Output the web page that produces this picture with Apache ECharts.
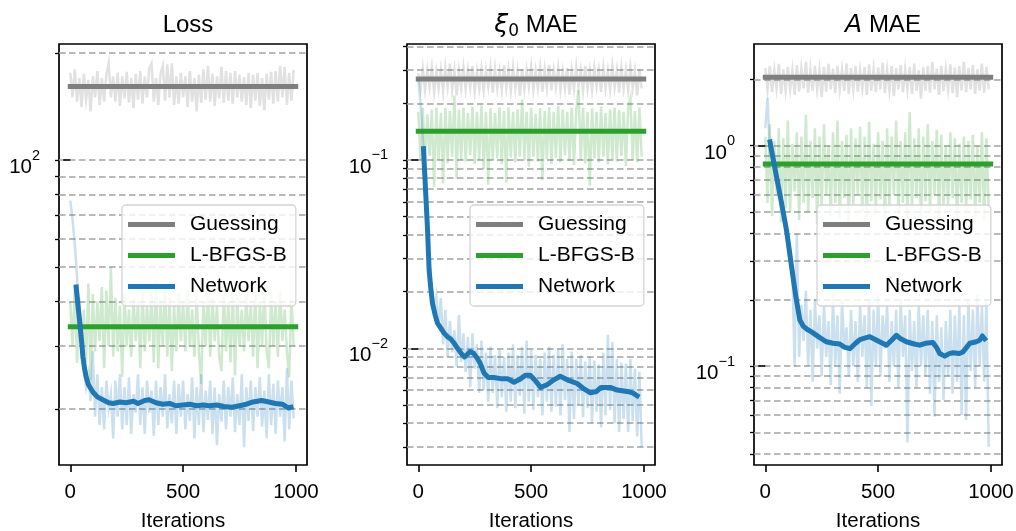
<!DOCTYPE html>
<html><head><meta charset="utf-8">
<script src="https://cdn.jsdelivr.net/npm/echarts@6/dist/echarts.min.js"></script>
<style>html,body{margin:0;padding:0;background:#fff}#c{width:1016px;height:531px}</style>
</head><body><div id="c"></div>
<script>
// ---------- shared ----------
const xTicks = [0, 500, 1000];
const iterRange = [-50, 1049];
const meanSpan = [0, 999];
const seriesNames = ['Guessing', 'L-BFGS-B', 'Network'];
const rawIters = []; for (let k = 0; k < 100; k++) rawIters.push(k * 10);

// ---------- panel 1 : Loss ----------
const lossRange = [13.9, 212];
const lossMajor = [100];
const lossMinor = [20, 30, 40, 50, 60, 70, 80, 90, 200];
const lossGuessMean = 161;
const lossLbfgsMean = 34;
const lossGuessRaw = [
176,150,180,146,170,141,175,148,168,137,
172,150,178,143,170,146,174,187,150,172,
146,176,142,172,149,177,145,170,140,175,
148,178,144,172,150,181,187,146,170,143,
175,184,147,186,150,187,143,172,144,176,
150,172,141,178,146,170,137,174,145,180,
148,184,146,175,142,172,149,183,145,178,
147,176,144,178,150,174,146,171,143,176,
140,174,147,176,142,170,138,175,148,177,
144,178,146,184,150,183,143,176,147,179];
const lossLbfgsRaw = [
40,30,44,26.9,41,29,38,27,45,24.1,
42,29,40,31,44,26,43,30,50,28,
41,29,39,24.6,42,30,38,28,41,31,
40,26,43,29,39,31,42,27,46,26,
40,30,44,28,41,25.5,39,29,42,31,
40,29,43,30,38,28,42,29,23.5,40,
30,44,28,41,31,39,28,25.5,43,29,
40,27,44,24.8,41,30,38,29,42,31,
39,28,43,26,40,30,44,29,26,42,
30,40,28,43,31,38,29,24.5,41,30];
const lossNetRaw = [
77,68,58,47,38,30,26,23,25,21,
29,19,25,18,23,17.5,24,20,22,16.5,
24,19,25,17.5,23,18,24.5,17,22,19.5,
25,18,23,17,24,19.5,22.5,16.8,24,18,
23,19,25,17.6,22,18.2,24,17,23.5,19,
24,17.5,22,18.5,24.5,16.5,23,18,25,17.2,
22.5,18.6,24,17,23,15.8,22,18.4,24,17.5,
23,19,24.5,17.2,22,18,25,15.6,23,18.5,
24,17.3,23,19,24.5,17.8,22.5,16.5,25,18,
23.5,17,24,19,23,16.2,26,17.5,24,18.8];
const lossNetIt  = [26,35,41,50,56,63,70,80,100,120,144,170,190,220,247,280,300,330,349,380,410,440,467,500,530,560,590,614,650,680,716,750,780,810,848,880,910,940,966,978];
const lossNetVal = [44,38.5,35.5,31,28,26,24.6,23.4,22.3,21.6,21.2,20.8,20.7,20.9,20.8,21.0,20.7,21.1,21.2,20.8,20.6,20.7,20.4,20.5,20.6,20.4,20.5,20.4,20.5,20.3,20.2,20.4,20.6,20.9,21.1,20.9,20.7,20.6,20.1,20.2];

// ---------- panel 2 : xi0 MAE ----------
const xiRange = [0.0024, 0.413];
const xiMajor = [0.1, 0.01];
const xiMinor = [0.003,0.004,0.005,0.006,0.007,0.008,0.009,0.02,0.03,0.04,0.05,0.06,0.07,0.08,0.09,0.2,0.3,0.4];
const xiGuessMean = 0.269;
const xiLbfgsMean = 0.142;
const xiGuessRaw = [
0.29,0.24,0.305,0.235,0.30,0.245,0.31,0.23,0.295,0.24,
0.30,0.232,0.31,0.245,0.325,0.236,0.30,0.22,0.298,0.24,
0.31,0.238,0.30,0.243,0.315,0.232,0.296,0.24,0.305,0.235,
0.30,0.245,0.31,0.228,0.305,0.24,0.295,0.236,0.318,0.242,
0.30,0.233,0.31,0.24,0.296,0.218,0.305,0.238,0.30,0.244,
0.312,0.236,0.298,0.241,0.31,0.23,0.302,0.24,0.32,0.234,
0.30,0.243,0.31,0.235,0.296,0.24,0.308,0.222,0.30,0.238,
0.312,0.242,0.30,0.234,0.316,0.24,0.298,0.236,0.31,0.245,
0.30,0.23,0.31,0.241,0.298,0.236,0.315,0.243,0.30,0.228,
0.308,0.24,0.30,0.235,0.312,0.242,0.296,0.22,0.305,0.24];
const xiLbfgsRaw = [
0.18,0.10,0.19,0.098,0.175,0.105,0.185,0.072,0.19,0.10,
0.178,0.075,0.19,0.096,0.182,0.104,0.22,0.08,0.185,0.10,
0.19,0.098,0.178,0.106,0.192,0.095,0.18,0.10,0.195,0.09,
0.18,0.074,0.188,0.1,0.178,0.102,0.19,0.095,0.182,0.076,
0.19,0.103,0.18,0.097,0.185,0.104,0.21,0.099,0.18,0.092,
0.19,0.104,0.176,0.098,0.188,0.078,0.182,0.101,0.19,0.095,
0.18,0.103,0.194,0.097,0.185,0.106,0.18,0.099,0.19,0.094,
0.183,0.235,0.1,0.19,0.096,0.18,0.073,0.188,0.102,0.18,
0.097,0.192,0.104,0.178,0.095,0.186,0.101,0.19,0.098,0.184,
0.105,0.18,0.093,0.188,0.212,0.1,0.182,0.097,0.19,0.104];
const xiNetRaw = [
0.27,0.2,0.13,0.08,0.045,0.026,0.021,0.016,0.019,0.013,
0.0185,0.0105,0.016,0.009,0.014,0.0095,0.0125,0.008,0.015,0.0085,
0.012,0.0075,0.0115,0.0062,0.012,0.0078,0.0105,0.0058,0.011,0.006,
0.0095,0.0052,0.0102,0.0058,0.0092,0.0048,0.0098,0.0055,0.009,0.0046,
0.0095,0.0052,0.0105,0.0048,0.0092,0.0056,0.0102,0.0045,0.011,0.0052,
0.0098,0.0047,0.0092,0.0055,0.0088,0.0044,0.0095,0.0052,0.0102,0.0046,
0.0092,0.0049,0.0098,0.0044,0.0105,0.0053,0.0088,0.0036,0.0096,0.0042,
0.0088,0.005,0.0092,0.0043,0.0085,0.0048,0.009,0.004,0.0086,0.0046,
0.0082,0.0038,0.0095,0.0044,0.0118,0.0047,0.0108,0.004,0.0088,0.0036,
0.0084,0.0042,0.0083,0.0036,0.0088,0.0041,0.0078,0.0034,0.0075,0.003];
const xiNetIt  = [23,32,41,48,55,63,75,85,100,115,130,144,160,174,190,205,218,230,245,260,275,291,310,334,365,395,424,446,476,496,520,542,571,601,629,660,704,733,763,790,810,851,881,925,950,970];
const xiNetVal = [0.115,0.07,0.0425,0.0261,0.021,0.0173,0.015,0.0136,0.0128,0.012,0.0115,0.0112,0.0106,0.0100,0.0094,0.0090,0.0093,0.0096,0.0094,0.0089,0.0083,0.0074,0.0070,0.0070,0.0069,0.0069,0.0066,0.0068,0.0072,0.0072,0.0067,0.0062,0.0064,0.0068,0.0071,0.0068,0.0065,0.0061,0.0058,0.0059,0.0062,0.0062,0.0060,0.0059,0.0058,0.0056];

// ---------- panel 3 : A MAE ----------
const aRange = [0.0356, 2.894];
const aMajor = [1, 0.1];
const aMinor = [0.04,0.05,0.06,0.07,0.08,0.09,0.2,0.3,0.4,0.5,0.6,0.7,0.8,0.9,2];
const aGuessMean = 2.045;
const aLbfgsMean = 0.826;
const aGuessRaw = [
2.25,1.8,2.3,1.75,2.2,1.82,2.35,1.72,2.22,1.78,
2.28,1.8,2.2,1.7,2.32,1.76,2.25,1.82,2.4,1.74,
2.22,1.78,2.3,1.8,2.2,1.66,2.28,1.76,2.35,1.8,
2.24,1.73,2.3,1.8,2.22,1.77,2.36,1.72,2.25,1.8,
2.3,1.76,2.2,1.82,2.28,1.7,2.34,1.78,2.22,1.75,
2.26,1.8,2.38,1.73,2.2,1.78,2.3,1.68,2.25,1.8,
2.32,1.75,2.22,1.8,2.28,1.72,2.36,1.78,2.2,1.64,
2.27,1.78,2.3,1.74,2.4,1.8,2.24,1.7,2.3,1.77,
2.22,1.8,2.34,1.73,2.26,1.66,2.3,1.78,2.4,1.75,
2.25,1.8,2.32,1.72,2.22,1.78,2.36,1.74,2.28,1.8];
const aLbfgsRaw = [
1.1,0.55,1.25,0.48,1.05,0.6,1.2,0.45,1.08,0.52,
1.3,0.5,1.02,0.62,1.15,0.46,1.1,0.55,1.38,0.5,
1.05,0.58,1.2,0.44,1.1,0.52,1.25,0.6,1.0,0.48,
1.15,0.55,1.3,0.47,1.05,0.58,1.12,0.43,1.2,0.54,
1.08,0.6,1.22,0.5,1.1,0.46,1.28,0.56,1.02,0.5,
1.15,0.57,1.05,0.45,1.2,0.53,1.1,0.6,1.3,0.49,
1.05,0.55,1.15,0.47,1.42,0.52,1.08,0.58,1.2,0.44,
1.1,0.56,1.25,0.5,1.05,0.6,1.18,0.46,1.12,0.54,
1.0,0.52,1.15,0.58,1.08,0.45,1.02,0.55,1.1,0.5,
1.05,0.57,1.12,0.48,1.0,0.55,1.15,0.46,1.08,0.52];
const aNetRaw = [
1.2,1.65,0.95,1.0,0.8,0.73,0.64,0.56,0.5,0.44,
0.38,0.32,0.27,0.1,0.40,0.11,0.19,0.13,0.22,0.10,
0.18,0.085,0.2,0.12,0.17,0.09,0.19,0.11,0.16,0.082,
0.21,0.1,0.17,0.075,0.2,0.12,0.15,0.09,0.18,0.1,
0.16,0.085,0.19,0.11,0.17,0.08,0.2,0.066,0.18,0.1,
0.21,0.09,0.17,0.12,0.19,0.085,0.16,0.1,0.18,0.08,
0.2,0.11,0.17,0.045,0.18,0.095,0.16,0.08,0.19,0.1,
0.17,0.09,0.18,0.075,0.16,0.059,0.17,0.085,0.15,0.07,
0.16,0.09,0.18,0.075,0.17,0.085,0.19,0.06,0.17,0.057,
0.2,0.095,0.18,0.08,0.21,0.1,0.19,0.085,0.2,0.043];
const aNetIt  = [21,24,45,70,94,115,135,153,168,185,205,240,271,300,330,350,375,400,419,440,463,500,537,560,581,600,625,660,684,710,743,760,773,795,815,832,860,876,893,906,935,950,962,972];
const aNetVal = [1.04,1.0,0.768,0.564,0.414,0.29,0.208,0.162,0.152,0.147,0.143,0.135,0.129,0.127,0.126,0.122,0.120,0.127,0.132,0.134,0.136,0.130,0.1245,0.131,0.138,0.133,0.129,0.126,0.1245,0.127,0.128,0.121,0.114,0.111,0.114,0.115,0.114,0.116,0.122,0.127,0.129,0.131,0.137,0.133];

// ---------- styling / layout ----------
const FONT = "'Liberation Sans', Arial, Helvetica, sans-serif";
const MATH = "'DejaVu Sans', sans-serif";
const COL = { g: '#7f7f7f', l: '#2ca02c', n: '#1f77b4' };
const GL = [59, 407, 754], GT = 44, GW = 248, GH = 421;
const FS = 20.5;

const panels = [
  { title: 'Loss', range: lossRange, major: lossMajor, minor: lossMinor,
    gMean: lossGuessMean, gRaw: lossGuessRaw, lMean: lossLbfgsMean, lRaw: lossLbfgsRaw,
    nRaw: lossNetRaw, nIt: lossNetIt, nVal: lossNetVal },
  { title: '{i|ξ}{sub|0} MAE', range: xiRange, major: xiMajor, minor: xiMinor,
    gMean: xiGuessMean, gRaw: xiGuessRaw, lMean: xiLbfgsMean, lRaw: xiLbfgsRaw,
    nRaw: xiNetRaw, nIt: xiNetIt, nVal: xiNetVal },
  { title: '{i|A} MAE', range: aRange, major: aMajor, minor: aMinor,
    gMean: aGuessMean, gRaw: aGuessRaw, lMean: aLbfgsMean, lRaw: aLbfgsRaw,
    nRaw: aNetRaw, nIt: aNetIt, nVal: aNetVal }
];

function powLabel(v) {
  const e = Math.round(Math.log10(v));
  return '{b|10}{s|' + (e < 0 ? '\u2212' + (-e) : String(e)) + '}';
}
const POW_RICH = {
  b: { fontSize: FS, fontFamily: FONT, color: '#000', lineHeight: 30, verticalAlign: 'bottom' },
  s: { fontSize: 14.5, fontFamily: FONT, color: '#000', lineHeight: 30, verticalAlign: 'top' }
};

const option = { animation: false, backgroundColor: '#fff', title: [], grid: [], xAxis: [], yAxis: [], legend: [], series: [] };

panels.forEach((p, i) => {
  const cx = GL[i] + GW / 2;
  option.title.push({
    text: p.title, left: cx, top: 5, textAlign: 'center',
    textStyle: { fontSize: 24, fontWeight: 'normal', color: '#000', fontFamily: FONT, lineHeight: 30,
      rich: {
        i: { fontSize: 25, fontStyle: 'italic', fontFamily: MATH, color: '#000', lineHeight: 30 },
        sub: { fontSize: 17, fontFamily: MATH, color: '#000', lineHeight: 30, verticalAlign: 'bottom' }
      } }
  });
  option.grid.push({ left: GL[i], top: GT, width: GW, height: GH, show: true,
    outerBoundsMode: 'none', containLabel: false,
    borderColor: '#000', borderWidth: 1.7, backgroundColor: 'transparent' });
  option.xAxis.push({
    gridIndex: i, type: 'value', min: iterRange[0], max: iterRange[1],
    axisLine: { show: false },
    axisTick: { show: true, customValues: xTicks, length: 7, lineStyle: { color: '#000', width: 1.6 } },
    axisLabel: { customValues: xTicks, fontSize: FS, color: '#000', fontFamily: FONT, margin: 17,
      formatter: v => String(v) },
    splitLine: { show: false },
    name: 'Iterations', nameLocation: 'middle', nameGap: 46,
    nameTextStyle: { fontSize: FS, color: '#000', fontFamily: FONT }
  });
  option.yAxis.push({
    gridIndex: i, type: 'log', logBase: 10, min: p.range[0], max: p.range[1], position: 'left',
    axisLine: { show: false },
    axisTick: { show: true, customValues: p.major, length: 7, lineStyle: { color: '#000', width: 1.6 } },
    axisLabel: { customValues: p.major, formatter: powLabel, rich: POW_RICH, margin: 19, padding: [6, 0, 0, 0] },
    splitLine: { show: false }
  });
  option.yAxis.push({
    gridIndex: i, type: 'log', logBase: 10, min: p.range[0], max: p.range[1], position: 'left',
    axisLine: { show: false },
    axisTick: { show: true, customValues: p.major.concat(p.minor), length: 4, lineStyle: { color: '#000', width: 1.3 } },
    axisLabel: { show: false, customValues: p.major.concat(p.minor) },
    splitLine: { show: true, lineStyle: { color: '#a3a3a3', width: 1.5, type: [6.5, 3.5] } }
  });
  option.legend.push({
    data: seriesNames, orient: 'vertical', left: GL[i] + 63, top: 205,
    padding: [9, 9, 9, 6], itemGap: 10, itemWidth: 47, itemHeight: 5, icon: 'rect',
    selectedMode: false,
    backgroundColor: 'rgba(255,255,255,0.8)', borderColor: '#d4d4d4', borderWidth: 1.3, borderRadius: 4,
    textStyle: { fontSize: 21, color: '#000', fontFamily: FONT, lineHeight: 20, padding: [0, 0, 0, 10] }
  });
  const ax = { xAxisIndex: i, yAxisIndex: 2 * i };
  const raw = (name, vals, c) => Object.assign({
    type: 'line', name: name, data: rawIters.map((x, k) => [x, vals[k]]),
    symbol: 'none', showSymbol: false, silent: true,
    lineStyle: { color: c, width: 2.5, opacity: 0.23, join: 'miter' }, itemStyle: { color: c }
  }, ax);
  const thick = (name, data, c) => Object.assign({
    type: 'line', name: name, data: data, symbol: 'none', showSymbol: false, silent: true,
    lineStyle: { color: c, width: 5, cap: 'square', join: 'round' }, itemStyle: { color: c }
  }, ax);
  option.series.push(raw('Guessing raw', p.gRaw, COL.g));
  option.series.push(thick('Guessing', meanSpan.map(x => [x, p.gMean]), COL.g));
  option.series.push(raw('L-BFGS-B raw', p.lRaw, COL.l));
  option.series.push(thick('L-BFGS-B', meanSpan.map(x => [x, p.lMean]), COL.l));
  option.series.push(raw('Network raw', p.nRaw, COL.n));
  option.series.push(thick('Network', p.nIt.map((x, k) => [x, p.nVal[k]]), COL.n));
});

const chart = echarts.init(document.getElementById('c'), null, { renderer: 'canvas' });
chart.setOption(option);
</script></body></html>
